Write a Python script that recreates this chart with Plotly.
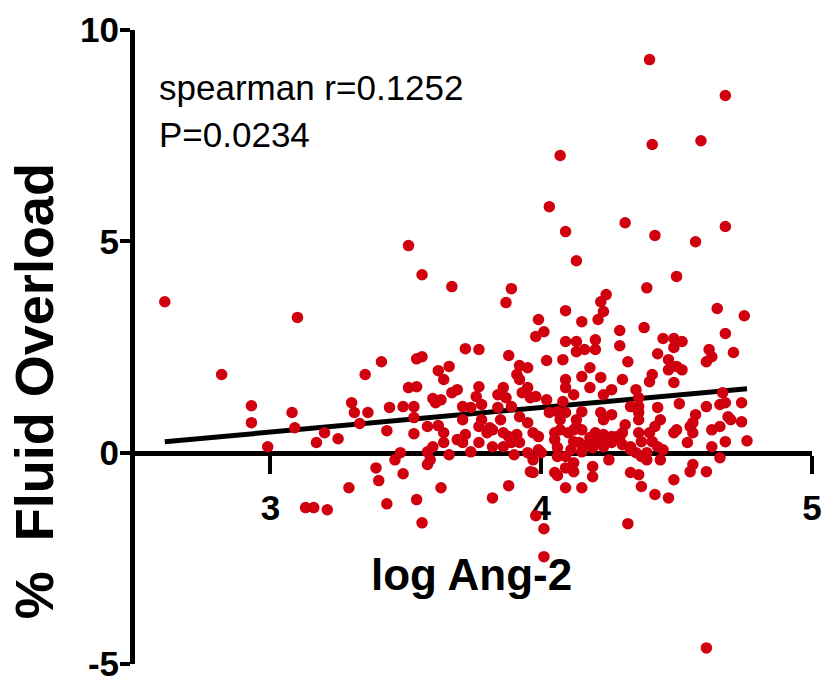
import plotly.graph_objects as go

# ---- data (log Ang-2 vs % fluid overload) ----
log_ang2 = [
    2.61, 3.10, 2.82, 2.93, 2.93, 3.08, 3.09, 2.99, 3.17, 3.20,
    3.13, 3.16, 3.21,
    3.51, 3.56, 3.67, 3.41, 3.35, 3.54, 3.56, 3.66, 3.62, 3.64,
    3.51, 3.54, 3.67, 3.69, 3.60, 3.61, 3.30, 3.31, 3.36, 3.44,
    3.49, 3.53, 3.53, 3.33, 3.25, 3.43, 3.53, 3.58, 3.62, 3.69,
    3.64, 3.66, 3.58, 3.60, 3.59, 3.48, 3.46, 3.39, 3.40, 3.49,
    3.29, 3.63, 3.43, 3.54, 3.56, 3.58, 3.64, 3.63,
    3.87, 3.89, 3.99, 3.98, 4.01, 3.72, 3.77, 3.88, 3.92, 3.95,
    4.02, 3.91, 3.92, 3.77, 3.86, 3.84, 3.93, 3.95, 3.98, 4.02,
    3.71, 3.74, 3.76, 3.78, 3.84, 3.87, 3.89, 3.96, 3.85, 3.78,
    3.71, 3.77, 3.80, 3.82, 3.86, 3.88, 3.91, 3.95, 3.97, 3.99,
    3.92, 3.77, 3.82, 3.86, 3.89, 3.92, 3.74, 3.90, 3.95, 3.97,
    3.96, 3.97, 3.88, 3.82, 3.98, 4.01, 4.01, 3.72, 3.71, 3.99,
    4.00, 3.81,
    4.40, 4.07, 4.03, 4.09, 4.31, 4.42, 4.13, 4.39, 4.09, 4.24,
    4.22, 4.23, 4.21, 4.15, 4.38, 4.29, 4.29, 4.13, 4.13, 4.16,
    4.20, 4.20, 4.32, 4.08, 4.09, 4.18, 4.15, 4.22, 4.09, 4.09,
    4.18, 4.30, 4.26, 4.35, 4.36, 4.41, 4.40, 4.12, 4.23, 4.36,
    4.33, 4.43, 4.08, 4.06, 4.03, 4.09, 4.15, 4.22, 4.23, 4.26,
    4.36, 4.44, 4.07, 4.13, 4.07, 4.10, 4.13, 4.15, 4.31, 4.42,
    4.05, 4.05, 4.20, 4.23, 4.26, 4.30, 4.29, 4.36, 4.12, 4.14,
    4.18, 4.21, 4.23, 4.26, 4.30, 4.37, 4.41, 4.06, 4.11, 4.15,
    4.19, 4.33, 4.06, 4.09, 4.25, 4.37, 4.39, 4.44, 4.33, 4.35,
    4.43, 4.09, 4.11, 4.19, 4.19, 4.05, 4.12, 4.33, 4.36, 4.09,
    4.15, 4.37, 4.42, 4.32, 4.06,
    4.17, 4.28, 4.12, 4.39, 4.25, 4.36, 4.40, 4.12,
    4.68, 4.41, 4.59, 4.57, 4.68, 4.50, 4.65, 4.75, 4.68, 4.71,
    4.45, 4.49, 4.49, 4.43, 4.47, 4.52, 4.62, 4.61, 4.63, 4.50,
    4.52, 4.47, 4.49, 4.51, 4.61, 4.66, 4.67, 4.68, 4.74, 4.57,
    4.56, 4.63, 4.66, 4.69, 4.70, 4.74, 4.49, 4.55, 4.56, 4.54,
    4.63, 4.68, 4.76, 4.66, 4.56, 4.55, 4.61, 4.49, 4.47, 4.50,
    4.45, 4.61,
]

fluid_overload = [
    3.57, 3.20, 1.85, 1.11, 0.71, 0.95, 0.59, 0.14, 0.24, 0.47,
    -1.30, -1.30, -1.35,
    4.90, 4.21, 3.93, 2.15, 1.85, 2.22, 2.27, 2.04, 1.94, 1.73,
    1.54, 1.56, 1.42, 1.49, 1.28, 1.18, 1.18, 0.95, 0.95, 1.07,
    1.09, 1.09, 0.83, 0.69, 0.33, 0.52, 0.45, 0.62, 0.64, 0.31,
    0.24, -0.05, 0.02, 0.14, -0.17, 0.00, -0.17, -0.36, -0.66, -0.50,
    -0.83, -0.83, -1.21, -1.11, -1.66, -0.28, 0.47, 1.25,
    3.55, 3.88, 3.15, 2.75, 2.86, 2.46, 2.44, 2.30, 2.06, 2.01,
    2.18, 1.85, 1.73, 1.56, 1.54, 1.37, 1.42, 1.54, 1.33, 1.25,
    1.09, 1.07, 1.33, 1.14, 1.07, 1.30, 1.09, 1.30, 0.78, 0.78,
    0.78, 0.62, 0.47, 0.54, 0.47, 0.38, 0.43, 0.71, 0.47, 0.38,
    0.85, 0.24, 0.14, 0.14, 0.24, 0.24, 0.02, -0.05, 0.00, -0.17,
    -0.45, -0.47, -0.78, -1.07, -1.49, -1.80, -2.46, 0.43, 0.24, 0.07,
    0.00, 0.59,
    9.30, 7.03, 5.82, 5.23, 5.44, 5.14, 4.54, 3.90, 3.36, 3.74,
    3.57, 3.34, 3.15, 3.10, 2.96, 2.89, 2.53, 2.63, 2.39, 2.44,
    2.67, 2.44, 2.15, 2.20, 2.63, 2.01, 1.80, 1.78, 1.73, 1.54,
    1.54, 1.73, 1.49, 1.49, 1.30, 1.85, 1.68, 1.37, 1.37, 1.09,
    1.09, 1.07, 1.21, 0.97, 0.95, 0.95, 0.97, 0.95, 0.78, 0.90,
    0.78, 0.78, 0.78, 0.78, 0.54, 0.47, 0.62, 0.54, 0.66, 0.62,
    0.47, 0.31, 0.47, 0.43, 0.38, 0.47, 0.31, 0.47, 0.26, 0.24,
    0.36, 0.24, 0.14, 0.24, 0.19, 0.26, 0.26, 0.12, 0.07, 0.02,
    0.12, 0.14, -0.09, -0.09, -0.17, -0.09, -0.17, -0.17, 0.07, 0.00,
    0.14, -0.36, -0.36, -0.33, -0.57, -0.47, -0.45, -0.47, -0.52, -0.83,
    -0.83, -0.80, -0.99, -1.68, -0.54,
    0.19, 0.38, -0.24, 0.00, 0.31, 0.95, 0.47, 0.54,
    8.45, 7.29, 7.38, 4.99, 5.35, 4.17, 3.41, 3.24, 2.82, 2.37,
    2.70, 2.70, 2.49, 2.34, 2.20, 2.63, 2.44, 2.15, 2.27, 2.04,
    1.96, 1.96, 1.66, 1.16, 1.09, 1.14, 1.42, 1.18, 1.18, 0.90,
    0.71, 0.54, 0.62, 0.85, 0.78, 0.73, 0.47, 0.62, 0.47, 0.24,
    0.14, 0.26, 0.28, -0.12, -0.28, -0.45, -0.45, -0.64, -1.07, 0.54,
    0.07, -4.62,
]

fit_x = [2.61, 4.76]
fit_y = [0.26, 1.51]

x_ticks = [3, 4, 5]
y_ticks = [-5, 0, 5, 10]

n = min(len(log_ang2), len(fluid_overload))
log_ang2 = log_ang2[:n]
fluid_overload = fluid_overload[:n]

FONT = "Arial, Liberation Sans, sans-serif"
RED = "#D0000F"

fig = go.Figure()
fig.add_trace(go.Scatter(
    x=fit_x, y=fit_y, mode="lines",
    line=dict(color="black", width=5), hoverinfo="skip", showlegend=False))
fig.add_trace(go.Scatter(
    x=log_ang2, y=fluid_overload, mode="markers",
    marker=dict(color=RED, size=11.5, line=dict(width=0)), showlegend=False))

fig.update_layout(
    width=833, height=683,
    margin=dict(l=135, r=21, t=30, b=19, autoexpand=False),
    paper_bgcolor="white", plot_bgcolor="white",
    font=dict(family=FONT, color="black"),
    xaxis=dict(
        range=[2.5, 5], tickvals=x_ticks, ticktext=[str(v) for v in x_ticks],
        showgrid=False, zeroline=False, showline=True, linecolor="black", linewidth=5,
        ticks="outside", ticklen=18, tickwidth=4, tickcolor="black",
        tickfont=dict(family=FONT, size=35, weight="bold", color="black"),
        anchor="free", position=1 / 3, layer="below traces", automargin=False,
        ticklabeloverflow="allow", ticklabelstandoff=4,
    ),
    yaxis=dict(
        range=[-5, 10], tickvals=y_ticks, ticktext=[str(v) for v in y_ticks],
        showgrid=False, zeroline=False, showline=True, linecolor="black", linewidth=5,
        ticks="outside", ticklen=10, tickwidth=4, tickcolor="black",
        tickfont=dict(family=FONT, size=35, weight="bold", color="black"),
        layer="below traces", automargin=False,
        ticklabeloverflow="allow", ticklabelstandoff=-6,
    ),
    annotations=[
        dict(x=2.58, y=8.64, xref="x", yref="y", text="spearman r=0.1252",
             showarrow=False, xanchor="left", yanchor="middle",
             font=dict(family=FONT, size=35, color="black")),
        dict(x=2.58, y=7.53, xref="x", yref="y", text="P=0.0234",
             showarrow=False, xanchor="left", yanchor="middle",
             font=dict(family=FONT, size=35, color="black")),
        dict(x=3.744, y=-2.89, xref="x", yref="y", text="log Ang-2",
             showarrow=False, xanchor="center", yanchor="middle",
             font=dict(family=FONT, size=44, weight="bold", color="black")),
        dict(x=-0.148, y=1.45, xref="paper", yref="y", text="%  Fluid Overload",
             textangle=-90, showarrow=False, xanchor="center", yanchor="middle",
             font=dict(family=FONT, size=54, weight="bold", color="black")),
    ],
)

fig.write_html("out.html")
